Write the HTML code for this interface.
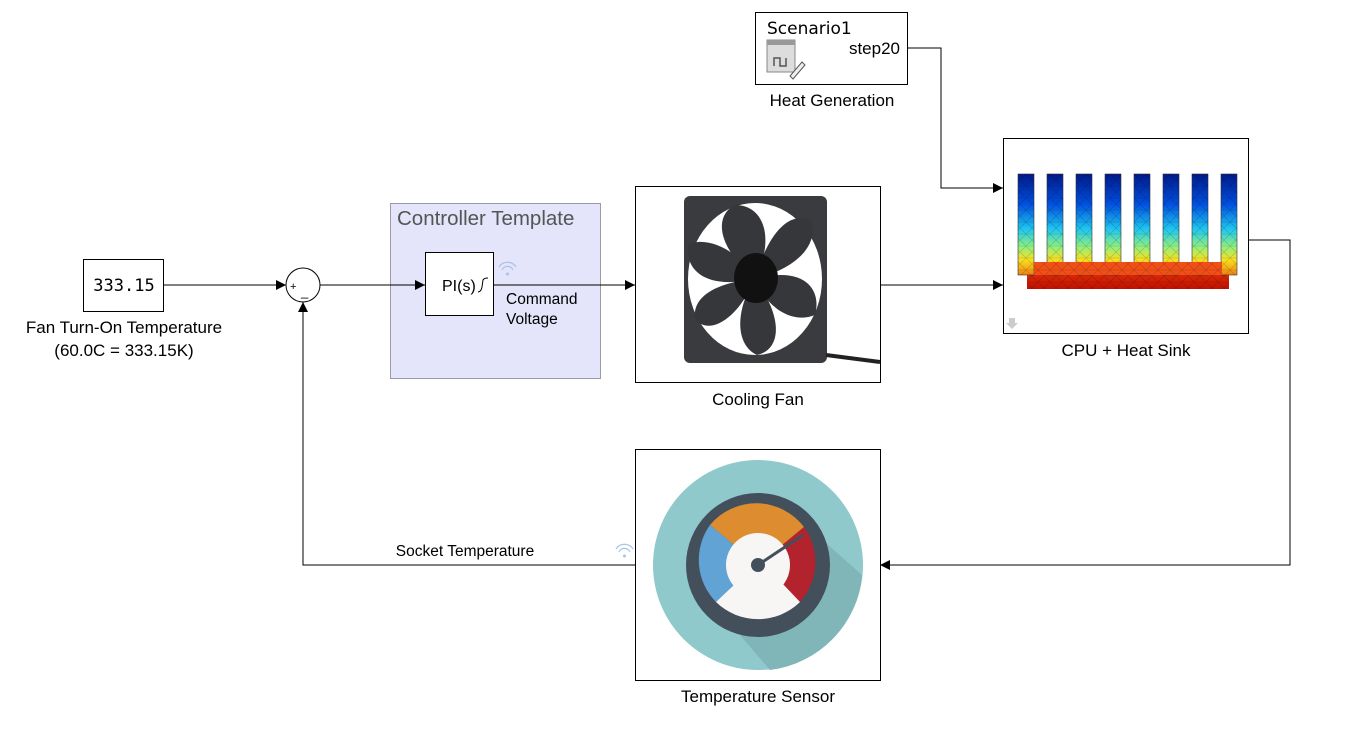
<!DOCTYPE html>
<html><head><meta charset="utf-8"><style>
body{margin:0;background:#fff;width:1345px;height:725px;overflow:hidden}
text{font-family:"Liberation Sans",sans-serif}
</style></head><body>
<svg width="1345" height="725" viewBox="0 0 1345 725" xmlns="http://www.w3.org/2000/svg">
<defs>
<marker id="a" markerWidth="10" markerHeight="10" refX="10" refY="5" orient="auto" markerUnits="userSpaceOnUse"><path d="M0,0 L10,5 L0,10 z" fill="#000"/></marker>
<linearGradient id="fin" x1="0" y1="0" x2="0" y2="1">
<stop offset="0" stop-color="#001a8a"/><stop offset="0.3" stop-color="#0050e0"/><stop offset="0.55" stop-color="#20c8f0"/><stop offset="0.72" stop-color="#90f080"/><stop offset="0.85" stop-color="#f8e020"/><stop offset="1" stop-color="#f08010"/></linearGradient>
<linearGradient id="base" x1="0" y1="0" x2="0" y2="1"><stop offset="0" stop-color="#f04010"/><stop offset="1" stop-color="#c01000"/></linearGradient>
<pattern id="mesh" width="12" height="12" patternUnits="userSpaceOnUse"><path d="M0,0 L12,12 M12,0 L0,12 M0,6 H12" stroke="#000" stroke-opacity="0.35" stroke-width="0.6" fill="none"/></pattern>
<clipPath id="fc">
<rect x="1018" y="174" width="16" height="101"/><rect x="1047" y="174" width="16" height="101"/><rect x="1076" y="174" width="16" height="101"/><rect x="1105" y="174" width="16" height="101"/><rect x="1134" y="174" width="16" height="101"/><rect x="1163" y="174" width="16" height="101"/><rect x="1192" y="174" width="16" height="101"/><rect x="1221" y="174" width="16" height="101"/><rect x="1027" y="262" width="202" height="27"/>
</clipPath>
</defs>

<rect x="390.5" y="203.5" width="210" height="175" fill="#e4e4fa" stroke="#9a9aa8"/>
<text x="397" y="225" font-size="20.5" fill="#555">Controller Template</text>

<rect x="83.5" y="259.5" width="80" height="52" fill="#fff" stroke="#000"/>
<text x="124" y="291" text-anchor="middle" style="font-family:'DejaVu Sans Mono',monospace;font-size:17px">333.15</text>
<text x="124" y="333" font-size="17" text-anchor="middle">Fan Turn-On Temperature</text>
<text x="124" y="356" font-size="17" text-anchor="middle">(60.0C = 333.15K)</text>

<circle cx="303" cy="285" r="17" fill="#fff" stroke="#000"/>
<text x="290" y="290" font-size="11">+</text>
<text x="301" y="296" font-size="13">_</text>

<rect x="425.5" y="252.5" width="68" height="63" fill="#fff" stroke="#000"/>
<text x="442" y="291" font-size="16">PI(s)</text>
<path d="M478,292 q3,0 4,-5 l1,-7 q1,-2 5,-2" fill="none" stroke="#000"/>
<text x="506" y="304" font-size="15.5">Command</text>
<text x="506" y="324" font-size="15.5">Voltage</text>
<g fill="none" stroke="#a8c4e8" stroke-width="1.2"><path d="M502,270 a6,6 0 0 1 11,0"/><path d="M499,267 a10,10 0 0 1 17,0"/></g>
<circle cx="507.5" cy="274" r="1.5" fill="#a8c4e8"/>

<g stroke="#000" fill="none" stroke-width="1">
<path d="M163,285 H286" marker-end="url(#a)"/>
<path d="M320,285 H425" marker-end="url(#a)"/>
<path d="M493,285 H635" marker-end="url(#a)"/>
<path d="M880,285 H1003" marker-end="url(#a)"/>
<path d="M907,48 H941 V188 H1003" marker-end="url(#a)"/>
<path d="M1248,240 H1290 V565 H880" marker-end="url(#a)"/>
<path d="M635,565 H303 V302" marker-end="url(#a)"/>
</g>
<text x="465" y="556" font-size="15.5" text-anchor="middle">Socket Temperature</text>
<g fill="none" stroke="#a8c4e8" stroke-width="1.2"><path d="M619,552 a6,6 0 0 1 11,0"/><path d="M616,549 a10,10 0 0 1 17,0"/></g>
<circle cx="624.5" cy="556" r="1.5" fill="#a8c4e8"/>

<rect x="755.5" y="12.5" width="152" height="72" fill="#fff" stroke="#000"/>
<text x="767" y="34" style="font-family:'DejaVu Sans',sans-serif;font-size:17px">Scenario1</text>
<text x="900" y="54" font-size="17" text-anchor="end">step20</text>
<rect x="767" y="40" width="28" height="32" fill="#ddd" stroke="#888"/>
<rect x="767" y="40" width="28" height="5" fill="#999"/>
<path d="M774,66 v-8 h6 v8 h6 v-8" fill="none" stroke="#555" stroke-width="1.5"/>
<path d="M790,76 l12,-14 l3,3 l-12,14 z" fill="#eee" stroke="#555"/>
<text x="832" y="106" font-size="17" text-anchor="middle">Heat Generation</text>

<rect x="635.5" y="186.5" width="245" height="196" fill="#fff" stroke="#000"/>
<rect x="684" y="196" width="143" height="167" rx="6" fill="#3a3b3e"/>
<ellipse cx="755" cy="279" rx="67" ry="76" fill="#fff"/>
<g fill="#36373a">
<path d="M755,279 C715,245 715,215 735,205 C765,205 775,240 755,279z"/>
<path d="M755,279 C770,225 795,210 812,222 C818,250 790,270 755,279z"/>
<path d="M755,279 C805,265 822,290 815,315 C790,325 765,305 755,279z"/>
<path d="M755,279 C785,320 780,350 757,355 C735,345 735,310 755,279z"/>
<path d="M755,279 C735,325 705,335 695,318 C692,295 720,282 755,279z"/>
<path d="M755,279 C705,290 685,270 688,245 C705,235 740,250 755,279z"/>
</g>
<ellipse cx="756" cy="278" rx="22" ry="25" fill="#111"/>
<path d="M826,355 L880,362" stroke="#222" stroke-width="4"/>
<text x="758" y="405" font-size="17" text-anchor="middle">Cooling Fan</text>

<rect x="1003.5" y="138.5" width="245" height="195" fill="#fff" stroke="#000"/>
<g>
<rect x="1027" y="262" width="202" height="27" fill="url(#base)"/>
<g stroke="#333" stroke-width="0.6">
<rect x="1018" y="174" width="16" height="101" fill="url(#fin)"/>
<rect x="1047" y="174" width="16" height="101" fill="url(#fin)"/>
<rect x="1076" y="174" width="16" height="101" fill="url(#fin)"/>
<rect x="1105" y="174" width="16" height="101" fill="url(#fin)"/>
<rect x="1134" y="174" width="16" height="101" fill="url(#fin)"/>
<rect x="1163" y="174" width="16" height="101" fill="url(#fin)"/>
<rect x="1192" y="174" width="16" height="101" fill="url(#fin)"/>
<rect x="1221" y="174" width="16" height="101" fill="url(#fin)"/>
</g>
<rect x="1034" y="262" width="188" height="13" fill="#f05018"/>
<rect x="1018" y="174" width="219" height="115" fill="url(#mesh)" opacity="0.6" clip-path="url(#fc)"/>
</g>
<path d="M1009,318 h6 v5 h3 l-6,6 l-6,-6 h3z" fill="#ccc"/>
<text x="1126" y="356" font-size="17" text-anchor="middle">CPU + Heat Sink</text>

<rect x="635.5" y="449.5" width="245" height="231" fill="#fff" stroke="#000"/>
<circle cx="758" cy="565" r="105" fill="#8fc9cb"/>
<path d="M800,520 L862,575 A105,105 0 0 1 770,670 L720,612z" fill="#80b6b8"/>
<circle cx="758" cy="565" r="72" fill="#43505c"/>
<path d="M758,565 L710,525 A60,60 0 0 1 804,527z" fill="#dd8c30"/>
<path d="M758,565 L710,525 A60,60 0 0 0 716,602z" fill="#62a3d6"/>
<path d="M758,565 L804,527 A60,60 0 0 1 800,602z" fill="#b3232d"/>
<circle cx="758" cy="565" r="32" fill="#f8f6f4"/>
<path d="M716,602 L734,585 L782,583 L800,602 A60,60 0 0 1 716,602z" fill="#f8f6f4"/>
<path d="M758,565 L803,535" stroke="#43505c" stroke-width="3"/>
<circle cx="758" cy="565" r="7" fill="#43505c"/>
<text x="758" y="702" font-size="17" text-anchor="middle">Temperature Sensor</text>
</svg>
</body></html>
